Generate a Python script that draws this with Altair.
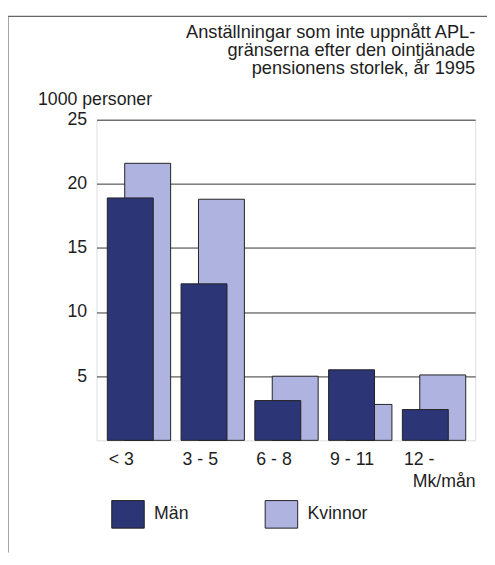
import altair as alt
import pandas as pd

categories = ["< 3", "3 - 5", "6 - 8", "9 - 11", "12 -"]
man = [18.9, 12.2, 3.1, 5.5, 2.4]
kvinnor = [21.6, 18.8, 5.0, 2.8, 5.1]
series = ["Män", "Kvinnor"]
colors = ["#2c3575", "#aeb3df"]
y_ticks = [5, 10, 15, 20, 25]
title_lines = ["Anställningar som inte uppnått APL-",
               "gränserna efter den ointjänade",
               "pensionens storlek, år 1995"]
y_title = "1000 personer"
x_title = "Mk/mån"

rows = []
for c, k in zip(categories, kvinnor):
    rows.append({"kat": c, "kon": "Kvinnor", "v": k})
for c, m in zip(categories, man):
    rows.append({"kat": c, "kon": "Män", "v": m})
df = pd.DataFrame(rows)

FONT = "Liberation Sans"
FS = 18
TXT = "#1e1e1e"

base = alt.Chart(df).encode(
    x=alt.X("kat:N", sort=categories,
            scale=alt.Scale(paddingInner=0, paddingOuter=0.0667),
            axis=alt.Axis(title=x_title, labelAngle=0, ticks=False, tickSize=0, domain=False,
                          labelAlign="left", labelOffset=-30, labelBaseline="alphabetic",
                          labelPadding=25, labelFontSize=FS, labelFont=FONT, labelColor=TXT,
                          titleFontSize=FS, titleFont=FONT, titleFontWeight="normal", titleColor=TXT,
                          titleAnchor="end", titleAlign="right", titleBaseline="alphabetic",
                          titleX=385, titleY=47, grid=False)),
    xOffset=alt.XOffset("kon:N", sort=series,
                        scale=alt.Scale(domain=series, range=[20.45, 55.85], paddingInner=0, paddingOuter=0)),
    y=alt.Y("v:Q", scale=alt.Scale(domain=[0, 25], nice=False),
            axis=alt.Axis(title=y_title, values=y_ticks, ticks=False, tickSize=0, domain=False,
                          labelPadding=10, labelFontSize=FS, labelFont=FONT, labelColor=TXT,
                          labelBaseline="middle",
                          grid=True, gridColor="#333333", gridWidth=1, gridOpacity=1,
                          titleAngle=0, titleAlign="left", titleBaseline="alphabetic",
                          titleX=-60, titleY=-15, titleFontSize=FS, titleFont=FONT,
                          titleFontWeight="normal", titleColor=TXT)),
    color=alt.Color("kon:N", sort=series,
                    scale=alt.Scale(domain=series, range=colors),
                    legend=alt.Legend(title=None, orient="none", direction="horizontal",
                                      legendX=17.5, legendY=386.5, padding=0,
                                      symbolType="M -1.18 -1 L 1.18 -1 L 1.18 1 L -1.18 1 Z",
                                      symbolSize=784, symbolStrokeColor="#222222",
                                      symbolStrokeWidth=1, symbolOpacity=1,
                                      labelFontSize=FS, labelFont=FONT, labelColor=TXT,
                                      labelOffset=12, columnPadding=74)),
)

kv = base.transform_filter(alt.datum.kon == "Kvinnor").mark_bar(
    size=46.7, stroke="#222222", strokeWidth=1, opacity=1)
mn = base.transform_filter(alt.datum.kon == "Män").mark_bar(
    size=46.7, stroke="#222222", strokeWidth=1, opacity=1)

title_txt = alt.Chart(pd.DataFrame({"t": ["\n".join(title_lines)]})).mark_text(
    align="right", baseline="alphabetic", lineBreak="\n", lineHeight=18.6,
    font=FONT, fontSize=18.5, color=TXT).encode(
    text="t:N", x=alt.value(385), y=alt.value(-83.5))

frame_top = alt.Chart(pd.DataFrame({"a": [0]})).mark_rule(color="#666666", strokeWidth=1.2).encode(
    x=alt.value(-90), x2=alt.value(400), y=alt.value(-105))
frame_left = alt.Chart(pd.DataFrame({"a": [0]})).mark_rule(color="#666666", strokeWidth=1.2).encode(
    x=alt.value(-90), y=alt.value(-105), y2=alt.value(440))

chart = alt.layer(kv, mn, title_txt, frame_top, frame_left).properties(
    width=385, height=326,
    autosize=alt.AutoSizeParams(type="none"),
    padding={"left": 90, "top": 109, "right": 12, "bottom": 112},
).configure_view(stroke="#333333", strokeWidth=1).configure(background="white")

chart.save("out.html", embed_options={"renderer": "svg", "actions": False})
